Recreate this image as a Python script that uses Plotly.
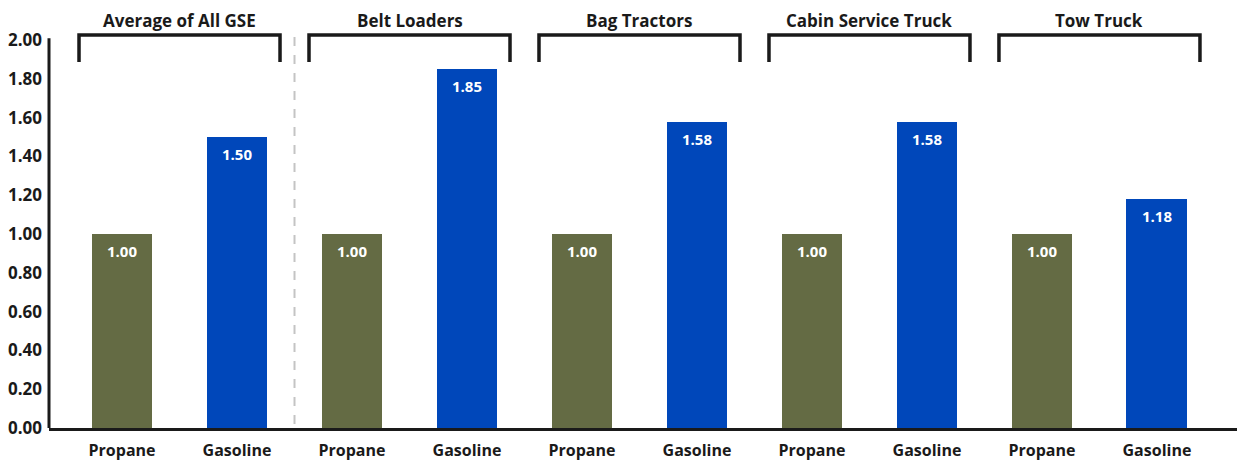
import plotly.graph_objects as go

groups = ["Average of All GSE", "Belt Loaders", "Bag Tractors", "Cabin Service Truck", "Tow Truck"]
fuels = ["Propane", "Gasoline"]
propane = [1.00, 1.00, 1.00, 1.00, 1.00]
gasoline = [1.50, 1.85, 1.58, 1.58, 1.18]
y_ticks = [0.0, 0.2, 0.4, 0.6, 0.8, 1.0, 1.2, 1.4, 1.6, 1.8, 2.0]

OLIVE = "#646b44"
BLUE = "#0047ba"
INK = "#1a1a1a"
FONT = "'Open Sans', Lato, sans-serif"

values, colors, labels = [], [], []
for p, g in zip(propane, gasoline):
    values += [p, g]
    colors += [OLIVE, BLUE]
    labels += fuels
xs = list(range(len(values)))

fig = go.Figure()
fig.add_trace(go.Bar(
    x=xs, y=values, width=0.53, marker=dict(color=colors, line=dict(width=0)),
    hoverinfo="skip", showlegend=False,
))

annotations = []
for x, v in zip(xs, values):
    annotations.append(dict(x=x, y=v, xref="x", yref="y", text=f"<b>{v:.2f}</b>",
                            showarrow=False, yshift=-17,
                            font=dict(family=FONT, size=15, color="white")))
shapes = []
for i, name in enumerate(groups):
    c = 2 * i + 0.5
    annotations.append(dict(x=c, y=2.103, xref="x", yref="y", text=f"<b>{name}</b>",
                            showarrow=False, font=dict(family=FONT, size=17, color=INK)))
    x0, x1 = c - 0.874, c + 0.874
    shapes.append(dict(type="path", xref="x", yref="y",
                       path=f"M {x0},1.887 L {x0},2.026 L {x1},2.026 L {x1},1.887",
                       line=dict(color=INK, width=3.5)))

# dashed separator
shapes.append(dict(type="line", xref="x", yref="y", x0=1.5, x1=1.5, y0=0.02, y1=2.03,
                   line=dict(color="#c4c4c4", width=2, dash="dash")))
# y axis line
shapes.append(dict(type="line", xref="paper", yref="y", x0=0, x1=0, y0=0, y1=2.01,
                   line=dict(color=INK, width=3)))

fig.update_layout(
    width=1237, height=461,
    margin=dict(l=49, r=0, t=11, b=33),
    plot_bgcolor="white", paper_bgcolor="white",
    bargap=0,
    xaxis=dict(range=[-0.635, 9.696], tickmode="array", tickvals=xs,
               ticktext=[f"<b>{t}</b>" for t in labels],
               showgrid=False, zeroline=False, showline=True, linecolor=INK, linewidth=3,
               ticks="", ticklabelstandoff=6, automargin=False,
               tickfont=dict(family=FONT, size=16, color=INK)),
    yaxis=dict(range=[0, 2.15], tickmode="array", tickvals=y_ticks,
               ticktext=[f"<b>{t:.2f}</b>" for t in y_ticks],
               showgrid=False, zeroline=False, showline=False, ticks="",
               ticklabelstandoff=6, automargin=False,
               tickfont=dict(family=FONT, size=17, color=INK)),
    annotations=annotations, shapes=shapes,
)

fig.write_html("out.html", config={"displayModeBar": False},
               post_script="document.body.style.margin='0';document.body.style.overflow='hidden';")
